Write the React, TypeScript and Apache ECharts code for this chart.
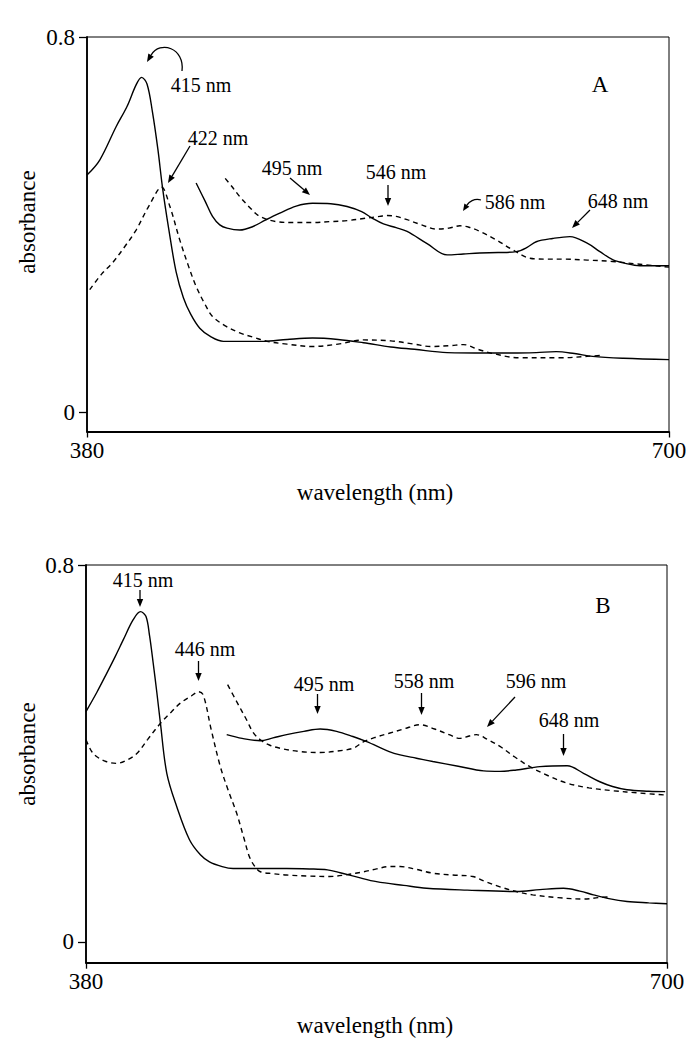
import React, { useEffect, useRef } from "react";
import * as echarts from "echarts";

const FONT = "Liberation Serif, serif";

// axis ranges and tick labels
const xMin = 380;
const xMax = 700;
const xTickValues = [380, 700];
const yTickValues = [0, 0.8];
const yMaxVal = 0.8;
const yMinA = -0.04;
const yMinB = -0.044;

const xAxisTitle = "wavelength (nm)";
const yAxisTitle = "absorbance";

// ---- Panel A ----
const aSolidLow: [number, number][] = [
  [380, 0.506], [387, 0.538], [396, 0.609], [402, 0.652], [407, 0.698], [410, 0.714],
  [413, 0.7], [416, 0.64], [419, 0.56], [421.5, 0.48], [425, 0.39], [429, 0.3],
  [433, 0.245], [437, 0.21], [442, 0.18], [448, 0.162], [455, 0.152], [477, 0.152],
  [490, 0.156], [504, 0.159], [518, 0.156], [532, 0.149], [547, 0.14], [560, 0.135],
  [578, 0.128], [600, 0.127], [614, 0.127], [627, 0.128], [638, 0.13], [648, 0.126],
  [658, 0.12], [675, 0.116], [700, 0.113],
];
const aDashLow: [number, number][] = [
  [381.5, 0.262], [388, 0.295], [394, 0.319], [401, 0.355], [407, 0.389], [414, 0.44],
  [421, 0.48], [425.5, 0.44], [431, 0.368], [436, 0.31], [440, 0.269], [445, 0.23],
  [449, 0.205], [456, 0.185], [464, 0.17], [472, 0.16], [479, 0.152], [490, 0.146],
  [504, 0.141], [518, 0.146], [532, 0.155], [547, 0.153], [560, 0.146], [569, 0.141],
  [580, 0.143], [587, 0.145], [595, 0.135], [602, 0.127], [618, 0.117], [640, 0.117],
  [655, 0.12], [662, 0.122],
];
const aSolidUp: [number, number][] = [
  [440, 0.489], [445, 0.45], [449, 0.418], [453, 0.4], [457, 0.393], [464, 0.389],
  [471, 0.396], [478, 0.41], [486, 0.425], [495, 0.44], [504, 0.446], [514, 0.445],
  [523, 0.439], [531, 0.428], [537, 0.414], [543, 0.402], [550, 0.394], [556, 0.386],
  [567, 0.36], [578, 0.336], [587, 0.338], [596, 0.34], [606, 0.341], [616, 0.343],
  [622, 0.352], [627, 0.364], [636, 0.371], [645.5, 0.375], [655, 0.361], [662, 0.343],
  [669, 0.326], [676, 0.318], [684, 0.313], [700, 0.313],
];
const aDashUp: [number, number][] = [
  [456, 0.499], [460, 0.48], [464, 0.46], [470, 0.435], [475, 0.418], [484, 0.407],
  [494, 0.405], [504, 0.405], [514, 0.407], [523, 0.409], [533, 0.414], [541, 0.418],
  [545, 0.42], [550, 0.418], [556, 0.411], [564, 0.4], [572, 0.391], [579, 0.393],
  [585, 0.398], [590, 0.395], [596, 0.386], [605, 0.368], [614, 0.347], [623.5, 0.329],
  [632, 0.327], [642, 0.327], [655, 0.325], [669, 0.322], [684, 0.316], [700, 0.31],
];

// ---- Panel B ----
const bSolidLow: [number, number][] = [
  [380, 0.489], [386, 0.53], [391.4, 0.57], [396, 0.605], [400.5, 0.641], [406, 0.684],
  [410, 0.701], [413, 0.691], [415, 0.65], [417, 0.592], [419, 0.53], [421, 0.464],
  [424.5, 0.358], [430, 0.287], [437, 0.217], [443, 0.185], [448, 0.17], [455, 0.16],
  [461, 0.156], [475, 0.156], [490.5, 0.156], [503, 0.155], [513, 0.153], [520, 0.147],
  [530, 0.137], [540, 0.128], [555, 0.12], [567.6, 0.114], [590, 0.11], [617, 0.107],
  [630, 0.111], [643, 0.114], [652, 0.108], [659.5, 0.1], [668, 0.092], [678, 0.086],
  [690, 0.083], [700, 0.081],
];
const bDashLow: [number, number][] = [
  [380, 0.429], [383, 0.405], [386, 0.393], [391, 0.383], [397, 0.379], [402, 0.385],
  [408, 0.4], [414, 0.43], [421, 0.464], [427, 0.488], [432, 0.507], [438, 0.522],
  [442, 0.531], [444.6, 0.524], [449, 0.45], [454, 0.372], [458.5, 0.32], [463, 0.273],
  [467, 0.22], [470, 0.181], [473, 0.16], [476, 0.149], [483, 0.145], [490.5, 0.142],
  [502, 0.14], [514, 0.139], [524, 0.143], [533, 0.149], [540, 0.155], [547, 0.16],
  [553, 0.16], [562, 0.154], [571, 0.146], [582, 0.142], [593, 0.139], [600, 0.128],
  [608, 0.117], [617, 0.107], [626, 0.1], [640, 0.094], [654, 0.091], [662, 0.094],
  [669, 0.096],
];
const bSolidUp: [number, number][] = [
  [457.5, 0.44], [466, 0.432], [476, 0.427], [483, 0.433], [490.5, 0.44], [500, 0.447],
  [509, 0.452], [518, 0.447], [527, 0.436], [534.6, 0.425], [547, 0.404], [553, 0.397],
  [562, 0.39], [571, 0.383], [585, 0.373], [599, 0.363], [608, 0.362], [617, 0.365],
  [630, 0.372], [645, 0.374], [654, 0.358], [663, 0.34], [670, 0.33], [678, 0.323],
  [690, 0.32], [699, 0.319],
];
const bDashUp: [number, number][] = [
  [458, 0.546], [463, 0.51], [468.5, 0.471], [472, 0.445], [476, 0.429], [481, 0.418],
  [487, 0.411], [498, 0.404], [509, 0.402], [518, 0.405], [527, 0.411], [533, 0.425],
  [540, 0.435], [547, 0.443], [555, 0.452], [564, 0.461], [572, 0.452], [580, 0.44],
  [586, 0.432], [591, 0.437], [595, 0.44], [601, 0.43], [608, 0.415], [616, 0.393],
  [624.5, 0.372], [635, 0.352], [645, 0.337], [657, 0.327], [670, 0.321], [685, 0.316],
  [699, 0.312],
];

const panelLabels = ["A", "B"];

function arrow(x1: number, y1: number, x2: number, y2: number, head = 8, w = 3.2): any[] {
  const ang = Math.atan2(y2 - y1, x2 - x1);
  const bx = x2 - head * Math.cos(ang);
  const by = y2 - head * Math.sin(ang);
  const px = -Math.sin(ang) * w;
  const py = Math.cos(ang) * w;
  return [
    { type: "line", shape: { x1, y1, x2: bx, y2: by }, style: { stroke: "#000", lineWidth: 1.3 } },
    {
      type: "polygon",
      shape: { points: [[x2, y2], [bx + px, by + py], [bx - px, by - py]] },
      style: { fill: "#000" },
    },
  ];
}

function curvedArrow(
  x1: number, y1: number, c1x: number, c1y: number, c2x: number, c2y: number,
  x2: number, y2: number, head = 8, w = 3.2
): any[] {
  const ang = Math.atan2(y2 - c2y, x2 - c2x);
  const bx = x2 - head * Math.cos(ang);
  const by = y2 - head * Math.sin(ang);
  const px = -Math.sin(ang) * w;
  const py = Math.cos(ang) * w;
  return [
    {
      type: "bezierCurve",
      shape: { x1, y1, cpx1: c1x, cpy1: c1y, cpx2: c2x, cpy2: c2y, x2: bx, y2: by },
      style: { stroke: "#000", lineWidth: 1.3, fill: null },
    },
    {
      type: "polygon",
      shape: { points: [[x2, y2], [bx + px, by + py], [bx - px, by - py]] },
      style: { fill: "#000" },
    },
  ];
}

function txt(text: string, x: number, y: number, size = 20, rotation = 0): any {
  return {
    type: "text",
    x,
    y,
    rotation,
    style: {
      text,
      fill: "#000",
      fontSize: size,
      fontFamily: FONT,
      textAlign: "center",
      textVerticalAlign: "middle",
      align: "center",
      verticalAlign: "middle",
    },
  };
}

function makeXAxis(gridIndex: number): any {
  return {
    gridIndex,
    type: "value",
    min: xMin,
    max: xMax,
    axisLine: { show: true, onZero: false, lineStyle: { color: "#000", width: 1.8 } },
    axisTick: { show: true, customValues: xTickValues, length: 6, lineStyle: { color: "#000", width: 1.3 } },
    axisLabel: { customValues: xTickValues, fontSize: 23, fontFamily: FONT, color: "#000", margin: 7 },
    splitLine: { show: false },
  };
}

function makeYAxis(gridIndex: number, yMin: number): any {
  return {
    gridIndex,
    type: "value",
    min: yMin,
    max: yMaxVal,
    axisLine: { show: true, onZero: false, lineStyle: { color: "#000", width: 1.8 } },
    axisTick: { show: true, customValues: yTickValues, length: 8, lineStyle: { color: "#000", width: 1.3 } },
    axisLabel: {
      customValues: yTickValues,
      fontSize: 23,
      fontFamily: FONT,
      color: "#000",
      margin: 12,
      formatter: (v: number) => (Math.abs(v) < 1e-9 ? "0" : String(Math.round(v * 10) / 10)),
    },
    splitLine: { show: false },
  };
}

function line(data: [number, number][], idx: number, dashed: boolean): any {
  return {
    type: "line",
    xAxisIndex: idx,
    yAxisIndex: idx,
    data,
    smooth: 0.35,
    showSymbol: false,
    symbol: "none",
    silent: true,
    lineStyle: { color: "#000", width: 1.4, type: dashed ? [5, 4] : "solid" },
  };
}

export default function App() {
  const ref = useRef<HTMLDivElement>(null);
  useEffect(() => {
    if (!ref.current) return;
    const chart = echarts.init(ref.current, null, { renderer: "svg" });

    const graphics: any[] = [
      // Panel A annotations
      txt("415 nm", 201, 85),
      ...curvedArrow(182, 71, 185, 48, 160, 40, 147, 62, 8, 3.2),
      txt("422 nm", 218, 138),
      ...arrow(190, 146, 168, 183),
      txt("495 nm", 292, 168),
      ...arrow(290, 178, 310, 195),
      txt("546 nm", 396, 172),
      ...arrow(388, 185, 388, 206),
      txt("586 nm", 515, 202),
      ...curvedArrow(481, 200, 474, 198, 469, 202, 463, 211, 7, 3),
      txt("648 nm", 618, 201),
      ...arrow(590, 210, 572, 228),
      txt(panelLabels[0], 600, 84, 23),
      txt(yAxisTitle, 27, 222, 23, Math.PI / 2),
      txt(xAxisTitle, 375, 492, 23),
      // Panel B annotations
      txt("415 nm", 143, 580),
      ...arrow(140, 590, 140, 607),
      txt("446 nm", 205, 649),
      ...arrow(198.5, 661, 198.5, 681),
      txt("495 nm", 324, 684),
      ...arrow(317.5, 694, 317.5, 714),
      txt("558 nm", 424, 681),
      ...arrow(421.5, 693, 421.5, 715),
      txt("596 nm", 536, 681),
      ...arrow(515, 697, 487, 727),
      txt("648 nm", 569, 720),
      ...arrow(563.5, 734, 563.5, 756),
      txt(panelLabels[1], 603, 605, 23),
      txt(yAxisTitle, 27, 754, 23, Math.PI / 2),
      txt(xAxisTitle, 375, 1025, 23),
    ];

    const option: any = {
      animation: false,
      backgroundColor: "#fff",
      grid: [
        { left: 87, top: 37, width: 582, height: 394.5, show: true, borderColor: "#000", borderWidth: 1, backgroundColor: "transparent" },
        { left: 86, top: 565, width: 581, height: 397.7, show: true, borderColor: "#000", borderWidth: 1, backgroundColor: "transparent" },
      ],
      xAxis: [makeXAxis(0), makeXAxis(1)],
      yAxis: [makeYAxis(0, yMinA), makeYAxis(1, yMinB)],
      series: [
        line(aSolidLow, 0, false),
        line(aDashLow, 0, true),
        line(aSolidUp, 0, false),
        line(aDashUp, 0, true),
        line(bSolidLow, 1, false),
        line(bDashLow, 1, true),
        line(bSolidUp, 1, false),
        line(bDashUp, 1, true),
      ],
      graphic: graphics,
    };
    chart.setOption(option);
    return () => chart.dispose();
  }, []);
  return (
    <div
      ref={ref}
      style={{ position: "absolute", left: 0, top: 0, width: 694, height: 1050, background: "#fff" }}
    />
  );
}
